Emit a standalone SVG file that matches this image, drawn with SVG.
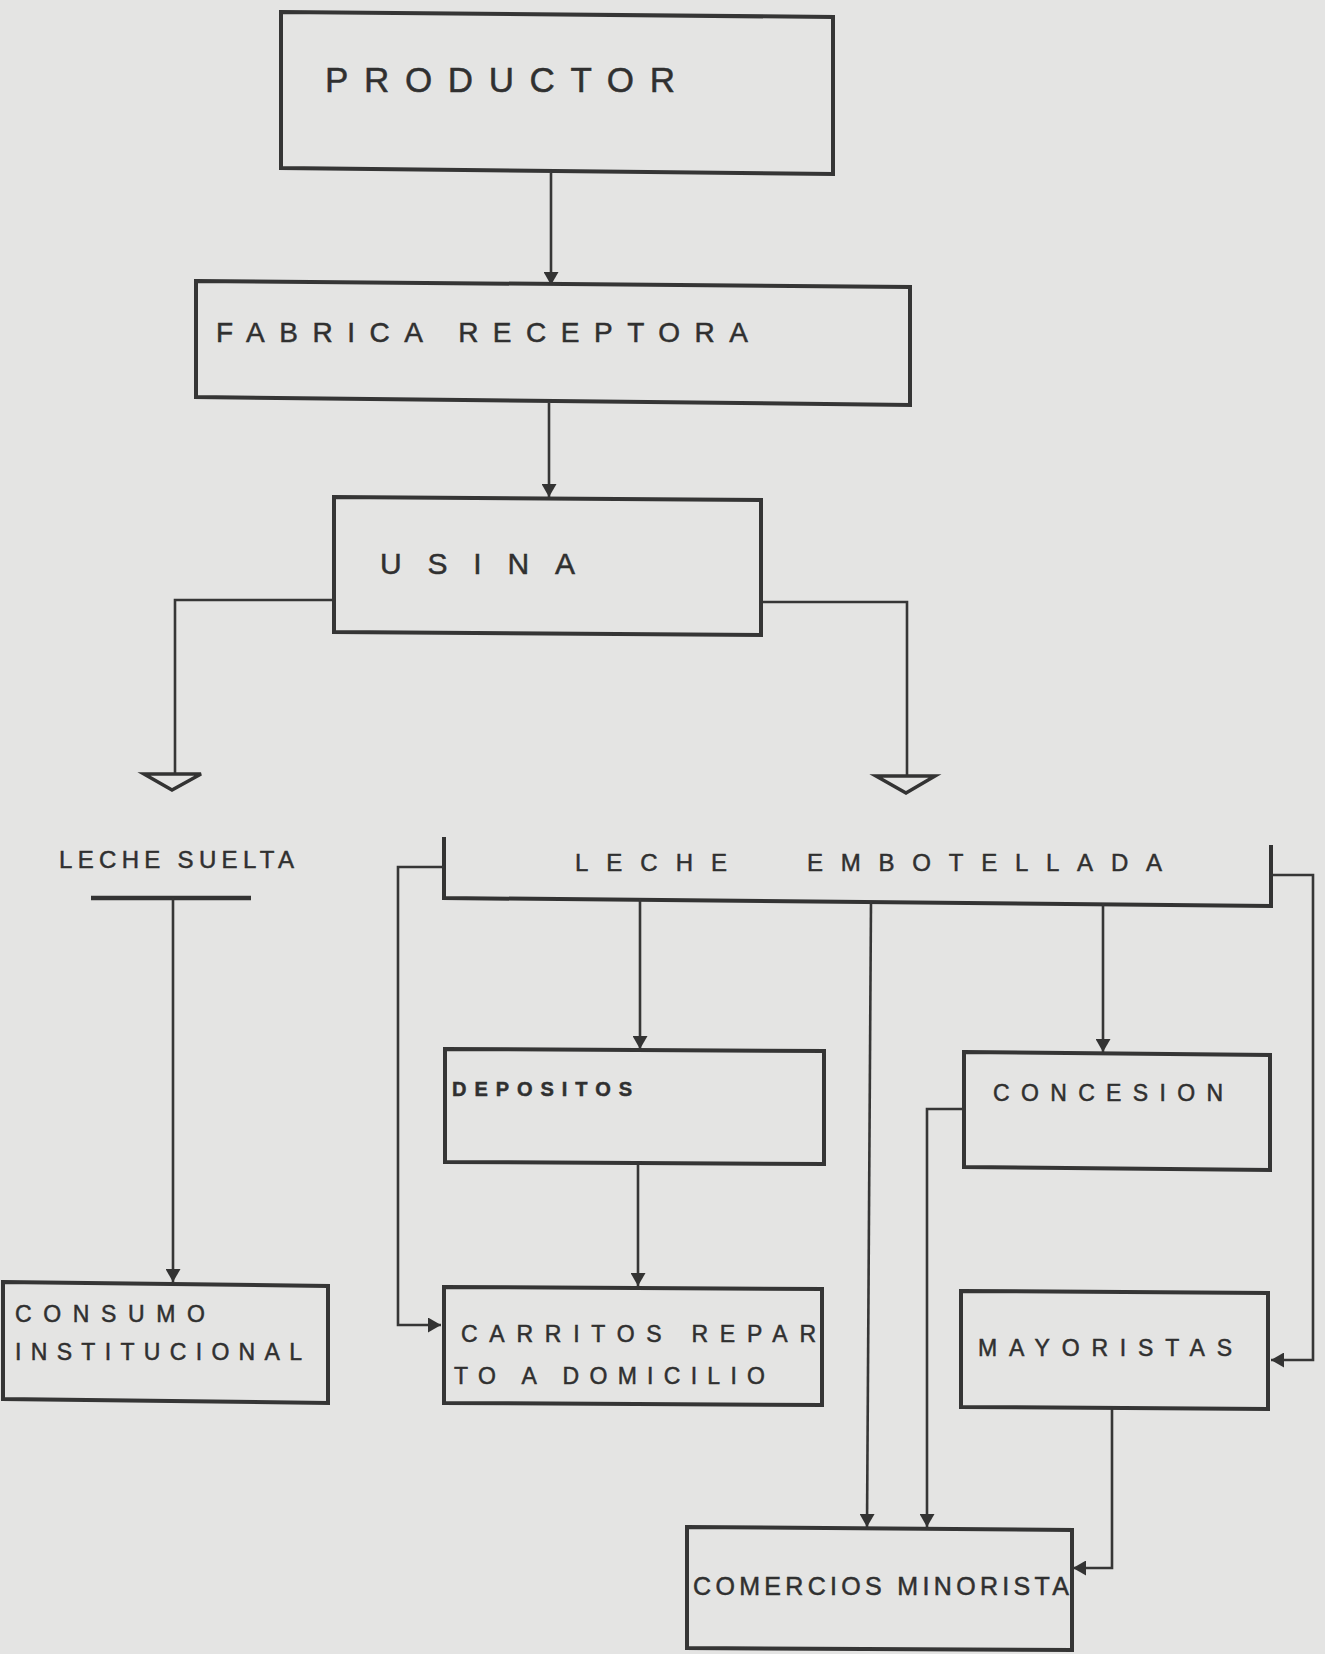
<svg xmlns="http://www.w3.org/2000/svg" width="1325" height="1654" viewBox="0 0 1325 1654">
<defs>
<style>
.box{fill:none;stroke:#353535;stroke-width:4;stroke-linejoin:miter}
.ln{fill:none;stroke:#363636;stroke-width:2.6}
.ar{marker-end:url(#ah)}
.t{font-family:"Liberation Sans",Arial,sans-serif;fill:#303030;stroke:#303030;stroke-width:0.5}
.tri{fill:none;stroke:#333;stroke-width:3.5;stroke-linejoin:miter}
</style>
<marker id="ah" viewBox="0 0 13 15" refX="13" refY="7.5" markerWidth="13" markerHeight="15" markerUnits="userSpaceOnUse" orient="auto">
<path d="M0,0 L13,7.5 L0,15 Z" fill="#333"/>
</marker>
</defs>
<rect width="1325" height="1654" fill="#e4e4e3"/>
<g id="connectors">
<line class="ln ar" x1="551" y1="173" x2="551" y2="285"/>
<line class="ln ar" x1="549" y1="403" x2="549" y2="497"/>
<polyline class="ln" points="334,600 175,600 175,774"/>
<polygon class="tri" points="144,774 201,774 172,790"/>
<polyline class="ln" points="761,602 907,602 907,776"/>
<polygon class="tri" points="876,776 935,776 906,793"/>
<line x1="91" y1="898" x2="251" y2="898" stroke="#333" stroke-width="4.5"/>
<line class="ln ar" x1="173" y1="898" x2="173" y2="1282"/>
<polyline fill="none" stroke="#333" stroke-width="4" points="444,837 444,898 1271,906 1271,845"/>
<polyline class="ln ar" points="444,867 398,867 398,1325 441,1325"/>
<polyline class="ln ar" points="1271,875 1313,875 1313,1360 1271,1360"/>
<line class="ln ar" x1="640" y1="899" x2="640" y2="1049"/>
<line class="ln ar" x1="1103" y1="903" x2="1103" y2="1052"/>
<line class="ln ar" x1="871" y1="901" x2="867" y2="1527"/>
<line class="ln ar" x1="638" y1="1165" x2="638" y2="1286"/>
<polyline class="ln ar" points="964,1109 927,1109 927,1527"/>
<polyline class="ln ar" points="1112,1409 1112,1568 1073,1568"/>
</g>
<g id="productor">
<polygon class="box" points="281,12 833,17 833,174 281,168"/>
<text class="t" x="325" y="92" font-size="35" textLength="350" lengthAdjust="spacing">PRODUCTOR</text>
</g>
<g id="fabrica">
<polygon class="box" points="196,281 910,287 910,405 196,397"/>
<text class="t" x="216" y="342" font-size="28" textLength="532" lengthAdjust="spacing">FABRICA RECEPTORA</text>
</g>
<g id="usina">
<polygon class="box" points="334,497 761,500 761,635 334,632"/>
<text class="t" x="380" y="574" font-size="30" textLength="195" lengthAdjust="spacing">USINA</text>
</g>
<g id="leche-suelta">
<text class="t" x="59" y="868" font-size="24" textLength="235" lengthAdjust="spacing">LECHE SUELTA</text>
</g>
<g id="leche-embotellada">
<text class="t" font-size="24" y="871"><tspan x="575" textLength="152" lengthAdjust="spacing">LECHE</tspan> <tspan x="807" textLength="355" lengthAdjust="spacing">EMBOTELLADA</tspan></text>
</g>
<g id="consumo">
<polygon class="box" points="3,1282 328,1286 328,1403 3,1399"/>
<text class="t" font-size="23"><tspan x="15" y="1322" textLength="190" lengthAdjust="spacing">CONSUMO</tspan><tspan x="15" y="1360" textLength="287" lengthAdjust="spacing">INSTITUCIONAL</tspan></text>
</g>
<g id="depositos">
<polygon class="box" points="445,1049 824,1051 824,1164 445,1162"/>
<text class="t" x="452" y="1096" font-size="20" font-weight="bold" textLength="180" lengthAdjust="spacing">DEPOSITOS</text>
</g>
<g id="concesion">
<polygon class="box" points="964,1052 1270,1055 1270,1170 964,1167"/>
<text class="t" x="993" y="1101" font-size="23" textLength="230" lengthAdjust="spacing">CONCESION</text>
</g>
<g id="carritos">
<polygon class="box" points="444,1287 822,1289 822,1405 444,1403"/>
<text class="t" font-size="23"><tspan x="461" y="1342" textLength="355" lengthAdjust="spacing">CARRITOS REPAR</tspan><tspan x="454" y="1384" textLength="311" lengthAdjust="spacing">TO A DOMICILIO</tspan></text>
</g>
<g id="mayoristas">
<polygon class="box" points="961,1291 1268,1293 1268,1409 961,1407"/>
<text class="t" x="978" y="1356" font-size="23" textLength="254" lengthAdjust="spacing">MAYORISTAS</text>
</g>
<g id="comercios">
<polygon class="box" points="687,1527 1072,1530 1072,1650 687,1648"/>
<text class="t" x="693" y="1595" font-size="25" textLength="376" lengthAdjust="spacing">COMERCIOS MINORISTA</text>
</g>
</svg>
